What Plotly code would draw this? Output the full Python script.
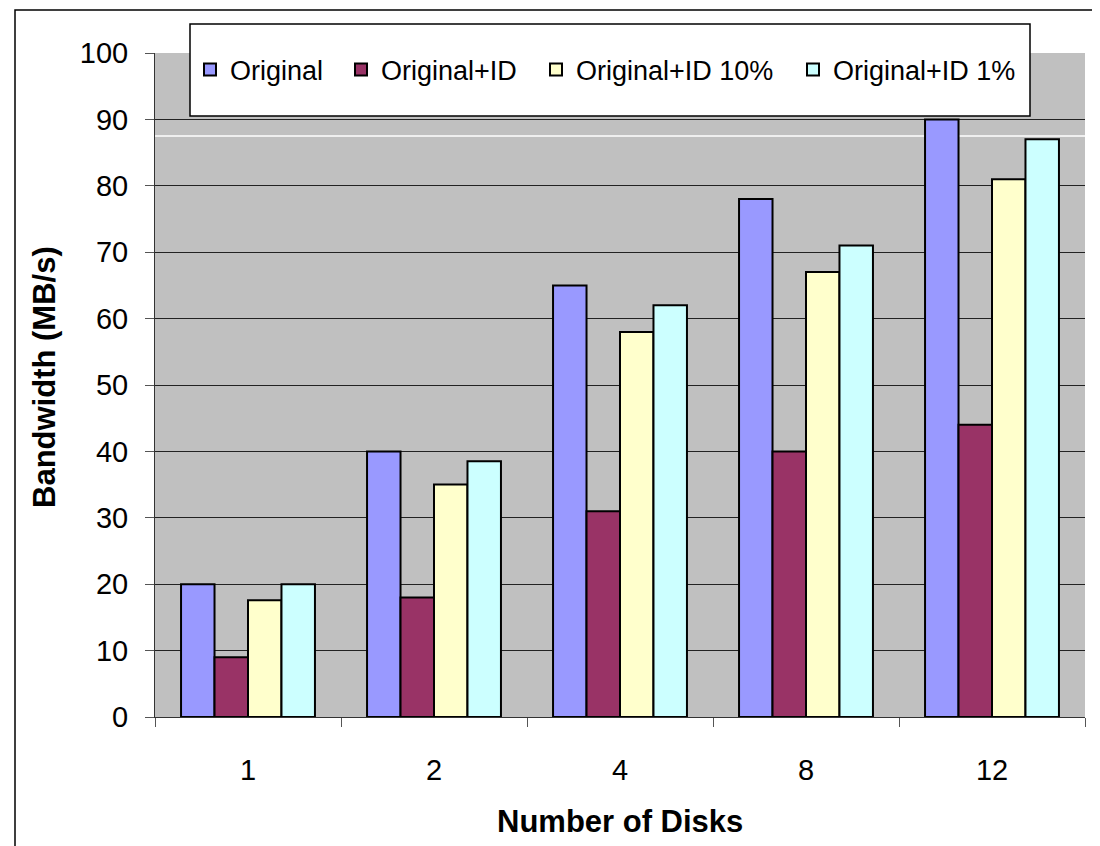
import plotly.graph_objects as go

categories = ["1", "2", "4", "8", "12"]
original = [20, 40, 65, 78, 90]
original_id = [9, 18, 31, 40, 44]
original_id_10 = [17.6, 35, 58, 67, 81]
original_id_1 = [20, 38.5, 62, 71, 87]

series = [
    ("Original", original, "#9999FF", 106),
    ("Original+ID", original_id, "#993366", 150),
    ("Original+ID 10%", original_id_10, "#FFFFCC", 212),
    ("Original+ID 1%", original_id_1, "#CCFFFF", 185),
]

FONT = "Liberation Sans, Arial, sans-serif"

fig = go.Figure()
for name, vals, color, lw in series:
    fig.add_trace(go.Bar(
        name=name, x=categories, y=vals, legendwidth=lw,
        marker=dict(color=color, line=dict(color="black", width=2)),
    ))

OFF = 8  # page body margin
W, H = 1100 - OFF, 846 - OFF
# page coordinates of plot area
PL, PR, PT, PB = 155, 1085, 53, 717
L = PL - OFF
T = PT - OFF
R = W - (PR - OFF)
B = H - (PB - OFF)
pw, ph = PR - PL, PB - PT

def px(x):
    return (x - PL) / pw

def py(y):
    return (PB - y) / ph

fig.update_layout(
    width=W, height=H,
    margin=dict(l=L, r=R, t=T, b=B),
    paper_bgcolor="white",
    plot_bgcolor="#C0C0C0",
    barmode="group",
    bargap=0.28,
    bargroupgap=0,
    font=dict(family=FONT, color="black"),
    showlegend=True,
    legend=dict(
        orientation="h",
        x=px(190), xanchor="left",
        y=py(70), yanchor="middle",
        bgcolor="rgba(0,0,0,0)",
        borderwidth=0,
        font=dict(size=27, family=FONT, color="black"),
        traceorder="normal",
    ),
    xaxis=dict(
        type="category",
        showgrid=False,
        showline=True, linecolor="#333", linewidth=1,
        ticks="outside", tickson="boundaries", ticklen=9, tickcolor="#555", tickwidth=1,
        tickfont=dict(size=29, family=FONT, color="black"),
        ticklabelstandoff=27,
    ),
    yaxis=dict(
        range=[0, 100],
        tickvals=list(range(0, 101, 10)),
        showgrid=True, gridcolor="#222", gridwidth=1,
        zeroline=False,
        showline=True, linecolor="#333", linewidth=1,
        ticks="outside", ticklen=9, tickcolor="#555", tickwidth=1,
        tickfont=dict(size=29, family=FONT, color="black"),
        ticklabelstandoff=11,
    ),
    shapes=[
        dict(type="rect", xref="paper", yref="paper",
             x0=px(15), x1=px(1097), y0=py(900), y1=py(10),
             line=dict(color="black", width=1.5), fillcolor="rgba(0,0,0,0)", layer="below"),
        dict(type="line", xref="paper", yref="y", x0=0, x1=1, y0=87.5, y1=87.5,
             line=dict(color="white", width=1.5), layer="below"),
        dict(type="rect", xref="paper", yref="paper",
             x0=px(190), x1=px(1030), y0=py(116), y1=py(24),
             line=dict(color="black", width=1.5), fillcolor="white", layer="above"),
    ],
    annotations=[
        dict(text="<b>Number of Disks</b>", xref="paper", yref="paper",
             x=px(620), y=py(821), xanchor="center", yanchor="middle",
             showarrow=False, font=dict(size=31, family=FONT, color="black")),
        dict(text="<b>Bandwidth (MB/s)</b>", xref="paper", yref="paper",
             x=px(44), y=py(377), xanchor="center", yanchor="middle", textangle=-90,
             showarrow=False, font=dict(size=31, family=FONT, color="black")),
    ],
)

fig.write_html("out.html")
